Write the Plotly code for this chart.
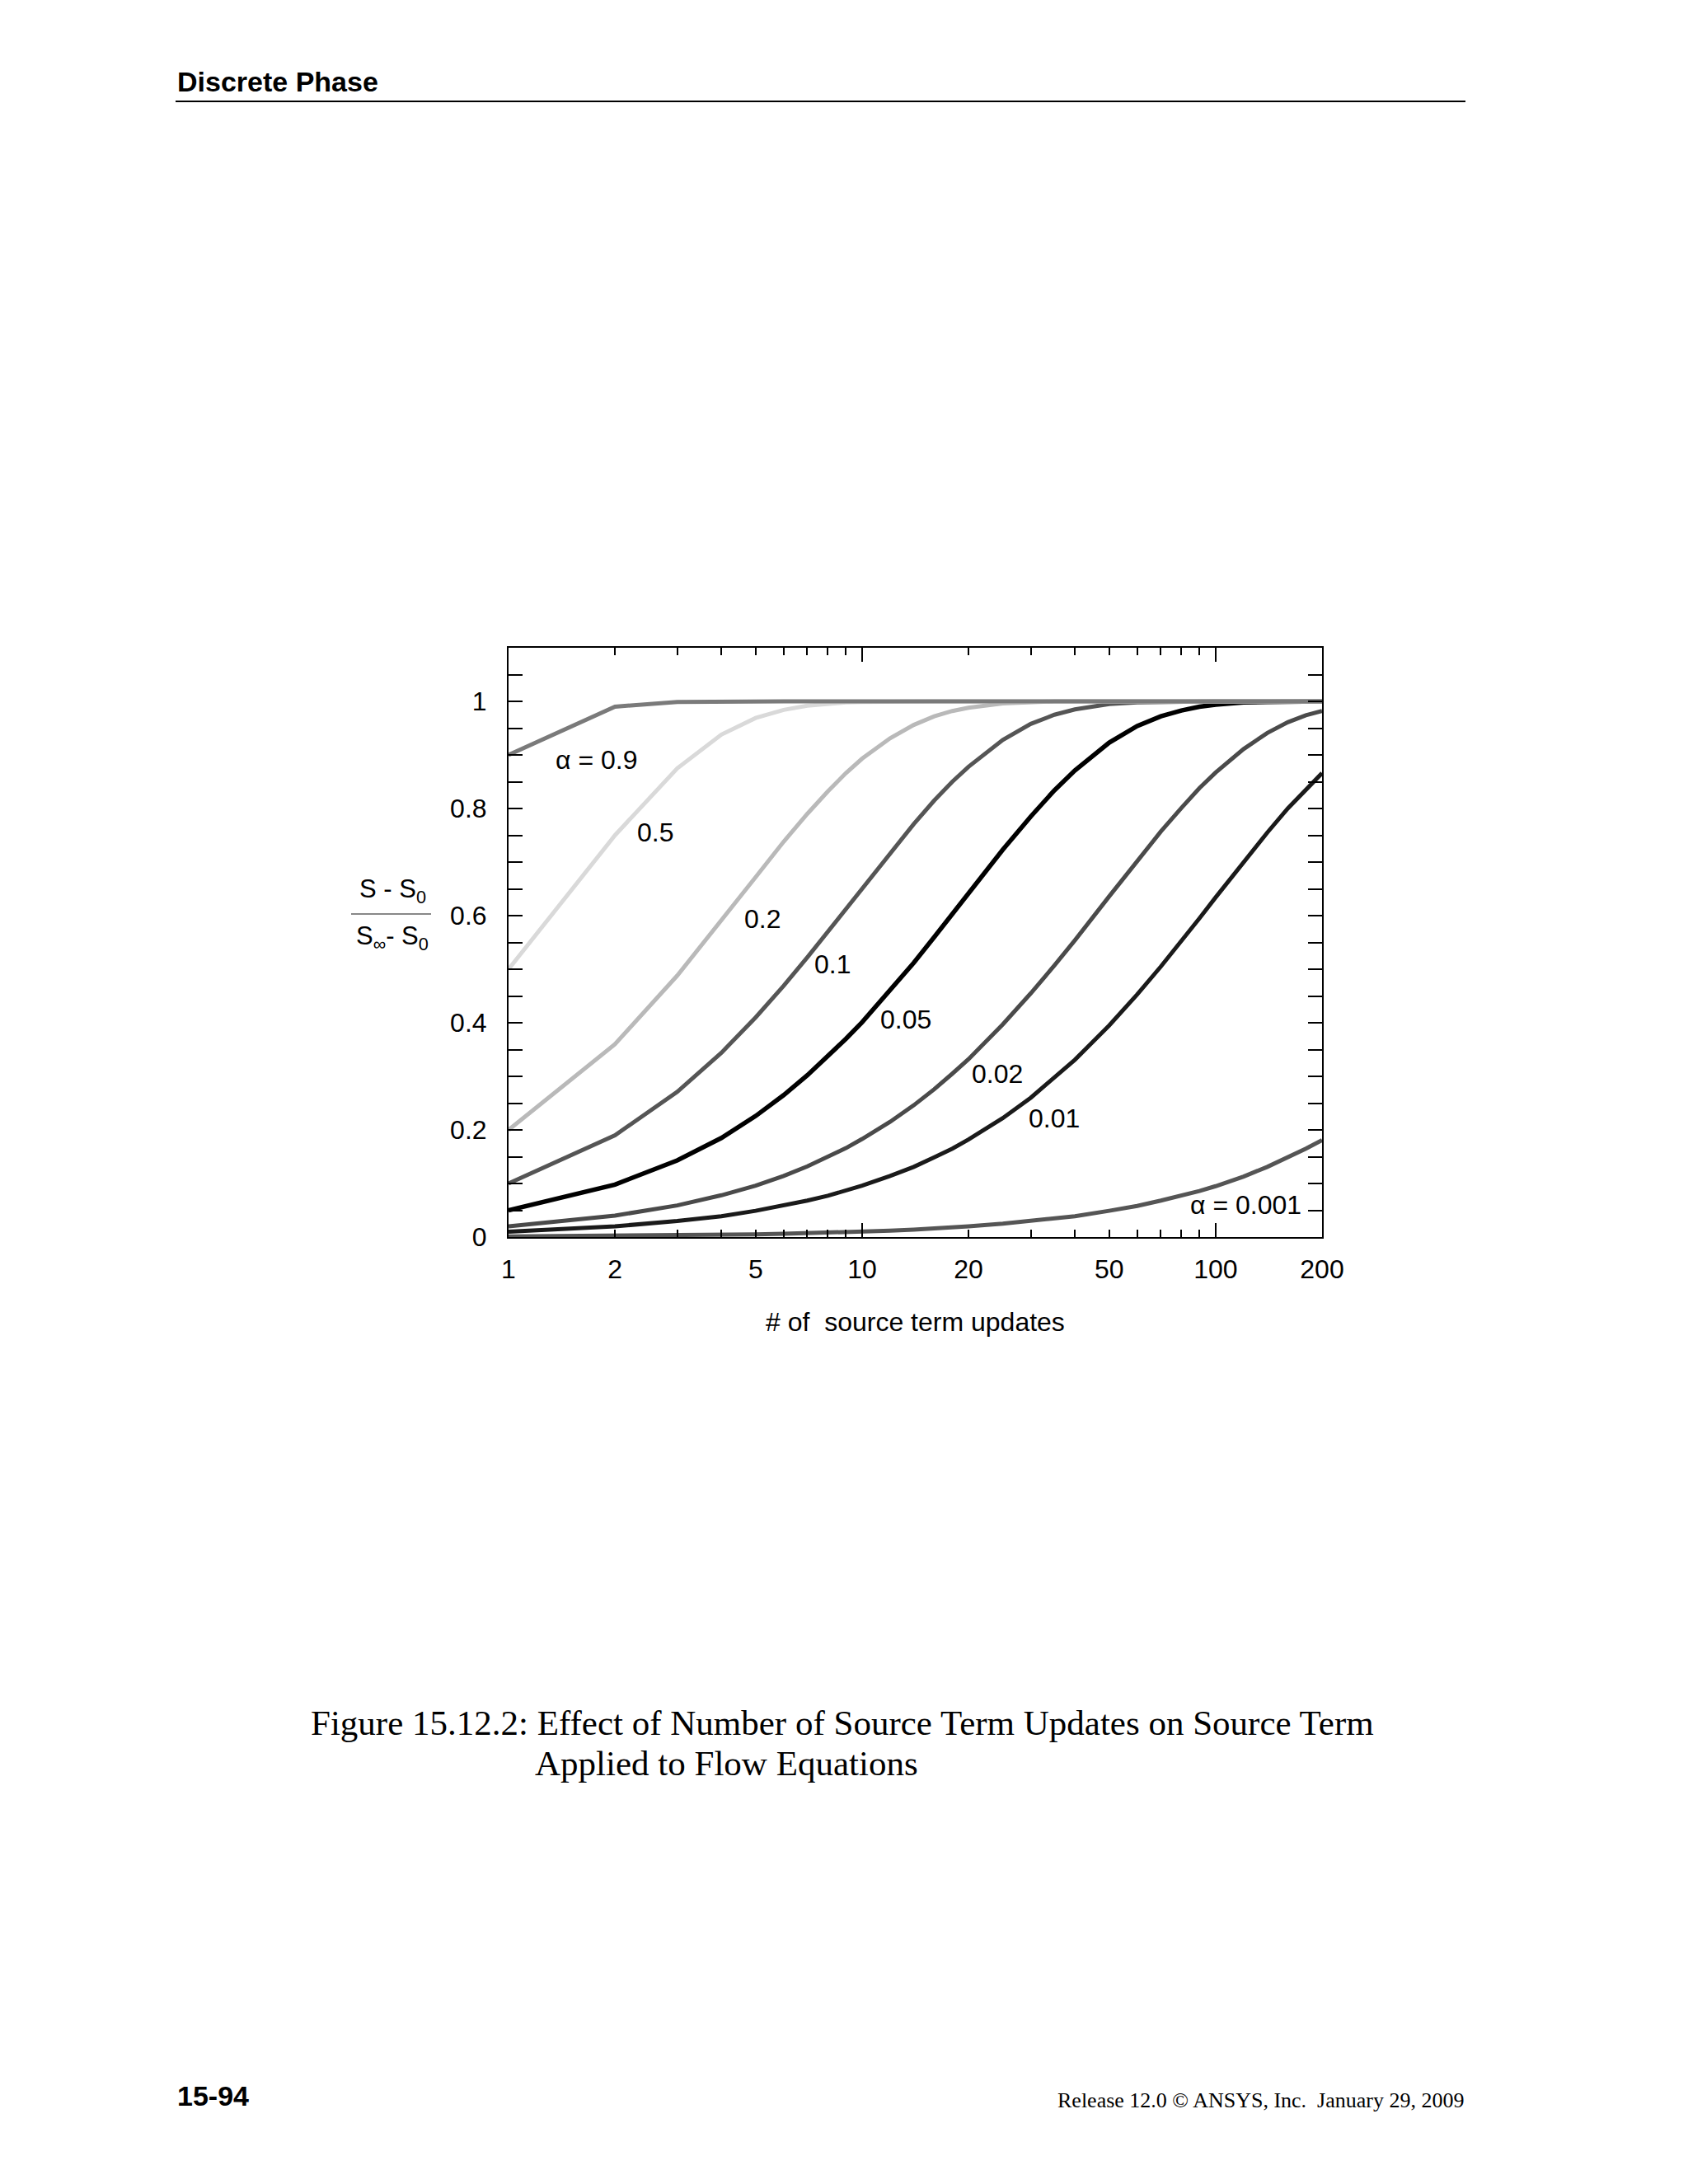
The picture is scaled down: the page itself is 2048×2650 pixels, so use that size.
import math
import plotly.graph_objects as go

# ---------------- data ----------------
n_updates = [1, 2, 3, 4, 5, 6, 7, 8, 9, 10, 12, 14, 16, 18, 20, 25, 30, 35, 40,
             50, 60, 70, 80, 90, 100, 120, 140, 160, 180, 200]

alpha_0_9 = [0.900, 0.990, 0.999, 1.000, 1.000, 1.000, 1.000, 1.000, 1.000, 1.000,
             1.000, 1.000, 1.000, 1.000, 1.000, 1.000, 1.000, 1.000, 1.000, 1.000,
             1.000, 1.000, 1.000, 1.000, 1.000, 1.000, 1.000, 1.000, 1.000, 1.000]
alpha_0_5 = [0.500, 0.750, 0.875, 0.938, 0.969, 0.984, 0.992, 0.996, 0.998, 0.999,
             1.000, 1.000, 1.000, 1.000, 1.000, 1.000, 1.000, 1.000, 1.000, 1.000,
             1.000, 1.000, 1.000, 1.000, 1.000, 1.000, 1.000, 1.000, 1.000, 1.000]
alpha_0_2 = [0.200, 0.360, 0.488, 0.590, 0.672, 0.738, 0.790, 0.832, 0.866, 0.893,
             0.931, 0.956, 0.972, 0.982, 0.988, 0.996, 0.999, 1.000, 1.000, 1.000,
             1.000, 1.000, 1.000, 1.000, 1.000, 1.000, 1.000, 1.000, 1.000, 1.000]
alpha_0_1 = [0.100, 0.190, 0.271, 0.344, 0.410, 0.469, 0.522, 0.570, 0.613, 0.651,
             0.718, 0.771, 0.815, 0.850, 0.878, 0.928, 0.958, 0.975, 0.985, 0.995,
             0.998, 0.999, 1.000, 1.000, 1.000, 1.000, 1.000, 1.000, 1.000, 1.000]
alpha_0_05 = [0.050, 0.098, 0.143, 0.185, 0.226, 0.265, 0.302, 0.337, 0.370, 0.401,
              0.460, 0.512, 0.560, 0.603, 0.642, 0.723, 0.785, 0.834, 0.871, 0.923,
              0.954, 0.972, 0.983, 0.990, 0.994, 0.998, 0.999, 1.000, 1.000, 1.000]
alpha_0_02 = [0.020, 0.040, 0.059, 0.078, 0.096, 0.114, 0.132, 0.149, 0.166, 0.183,
              0.215, 0.246, 0.276, 0.305, 0.332, 0.397, 0.455, 0.507, 0.554, 0.636,
              0.702, 0.757, 0.801, 0.838, 0.867, 0.911, 0.941, 0.961, 0.974, 0.982]
alpha_0_01 = [0.010, 0.020, 0.030, 0.039, 0.049, 0.059, 0.068, 0.077, 0.086, 0.096,
              0.114, 0.131, 0.149, 0.165, 0.182, 0.222, 0.260, 0.297, 0.331, 0.395,
              0.453, 0.505, 0.552, 0.595, 0.634, 0.701, 0.755, 0.800, 0.836, 0.866]
alpha_0_001 = [0.001, 0.002, 0.003, 0.004, 0.005, 0.006, 0.007, 0.008, 0.009, 0.010,
               0.012, 0.014, 0.016, 0.018, 0.020, 0.025, 0.030, 0.034, 0.039, 0.049,
               0.058, 0.068, 0.077, 0.086, 0.095, 0.113, 0.131, 0.148, 0.165, 0.181]

series_values = [alpha_0_001, alpha_0_01, alpha_0_02, alpha_0_05,
                 alpha_0_1, alpha_0_2, alpha_0_5, alpha_0_9]
series_names = ["α = 0.001", "0.01", "0.02", "0.05", "0.1", "0.2", "0.5", "α = 0.9"]

x_tick_values = [1, 2, 5, 10, 20, 50, 100, 200]
x_tick_labels = ["1", "2", "5", "10", "20", "50", "100", "200"]
x_minor_values = [3, 4, 6, 7, 8, 9, 30, 40, 60, 70, 80, 90]
x_long_values = [10, 100]
y_tick_values = [0, 0.2, 0.4, 0.6, 0.8, 1.0]
y_tick_labels = ["0", "0.2", "0.4", "0.6", "0.8", "1"]

# ---------------- styles / positions ----------------
series_colors = ["#555555", "#1a1a1a", "#4a4a4a", "#000000",
                 "#555555", "#b9b9b9", "#d9d9d9", "#7a7a7a"]
series_widths = [5, 5, 5, 5.5, 5, 5, 5, 5]
label_pos = [(121.5, 0.060), (34.9, 0.221), (24.1, 0.305), (13.3, 0.406),
             (8.24, 0.510), (5.23, 0.594), (2.6, 0.755), (1.77, 0.891)]

OFF = 8  # default page body margin
# plot box in page pixels
L, R, T, B = 617, 1604, 786, 1501
W, H = 2048 - 2 * OFF, 2650 - 2 * OFF
FONT = "Liberation Sans, Arial, sans-serif"
SERIF = "Liberation Serif, DejaVu Serif, serif"
FS = 32


def px(x):
    return (x - L) / (R - L)


def py(y):
    return (B - y) / (B - T)


fig = go.Figure()
for vals, name, col, w in zip(series_values, series_names, series_colors, series_widths):
    fig.add_trace(go.Scatter(x=n_updates, y=vals, mode="lines", name=name,
                             line=dict(color=col, width=w), showlegend=False))

axis_common = dict(showline=True, linecolor="black", linewidth=2, showgrid=False,
                   zeroline=False, mirror="allticks", tickcolor="black", tickwidth=2)

fig.update_layout(
    width=W, height=H, paper_bgcolor="white", plot_bgcolor="white",
    margin=dict(l=L - OFF, r=W - (R - OFF), t=T - OFF, b=H - (B - OFF), autoexpand=False),
    font=dict(family=FONT, size=FS, color="black"),
    xaxis=dict(type="log", range=[0, math.log10(200)], tickvals=x_tick_values,
               ticktext=x_tick_labels, ticks="inside", ticklen=9,
               ticklabelstandoff=10,
               minor=dict(tickvals=x_minor_values, ticks="inside", ticklen=9,
                          tickwidth=2, tickcolor="black"),
               **axis_common),
    xaxis2=dict(type="log", range=[0, math.log10(200)], overlaying="x",
                tickvals=x_long_values, ticks="inside", ticklen=17,
                showticklabels=False, anchor="y", **axis_common),
    yaxis=dict(range=[0, 1.1], tickvals=y_tick_values, ticktext=y_tick_labels,
               ticks="inside", ticklen=17, ticklabelstandoff=18,
               minor=dict(dtick=0.05, ticks="inside", ticklen=9, tickwidth=2,
                          tickcolor="black"),
               **axis_common),
)
# invisible trace to activate the long-tick axis
fig.add_trace(go.Scatter(x=[1], y=[None], xaxis="x2", yaxis="y", showlegend=False,
                         hoverinfo="skip"))

annotations = []
for name, (lx, ly) in zip(series_names, label_pos):
    annotations.append(dict(x=math.log10(lx), y=ly, xref="x", yref="y", text=name,
                            xanchor="center", yanchor="middle",
                            showarrow=False, font=dict(size=FS, family=FONT)))


def page_text(x, y, text, size, family=FONT, xanchor="center"):
    return dict(x=px(x), y=py(y), xref="paper", yref="paper", text=text,
                xanchor=xanchor, yanchor="middle", showarrow=False,
                font=dict(size=size, family=family, color="black"))


# axis titles
annotations.append(page_text(1110, 1604, "# of  source term updates", FS))
annotations.append(page_text(476, 1081, "S - S<sub>0</sub>", 31))
annotations.append(page_text(476, 1138, "S<sub>∞</sub>- S<sub>0</sub>", 31))

# page furniture
annotations.append(page_text(213, 99, "<b>Discrete Phase</b>", 34, xanchor="left"))
annotations.append(page_text(213, 2543, "<b>15-94</b>", 34, xanchor="left"))
annotations.append(page_text(1778, 2548, "Release 12.0 © ANSYS, Inc.  January 29, 2009",
                             26, SERIF, xanchor="right"))
annotations.append(page_text(375, 2090,
                             "Figure 15.12.2: Effect of Number of Source Term Updates on Source Term",
                             43, SERIF, xanchor="left"))
annotations.append(page_text(647, 2139, "Applied to Flow Equations", 43, SERIF,
                             xanchor="left"))
fig.update_layout(annotations=annotations)

fig.add_shape(type="line", xref="paper", yref="paper", x0=px(426), x1=px(523),
              y0=py(1109), y1=py(1109), line=dict(color="#888888", width=2))
fig.add_shape(type="line", xref="paper", yref="paper", x0=px(213), x1=px(1778),
              y0=py(123), y1=py(123), line=dict(color="black", width=2))

fig.write_html("out.html")
